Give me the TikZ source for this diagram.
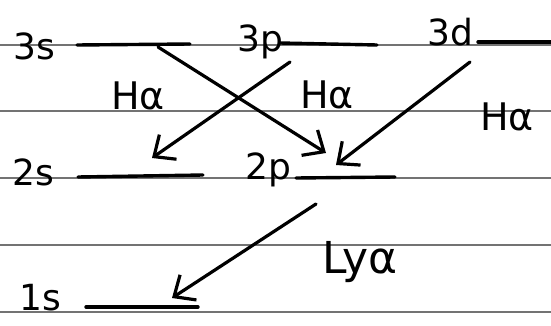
\documentclass[tikz,border=0pt]{standalone}
\usepackage{fontspec}
\setmainfont{DejaVu Sans}
\usetikzlibrary{arrows.meta}
\begin{document}
\begin{tikzpicture}[x=1pt,y=-1pt,
  rule/.style={draw=black!55,line width=1.2pt},
  level/.style={draw=black,line width=3.4pt,line cap=round},
  trans/.style={draw=black,line width=3.2pt,line cap=round,
    -{Straight Barb[length=17pt,width=30pt,line width=3.2pt]}},
  lab/.style={inner sep=0pt,font=\fontsize{36}{38}\selectfont},
  tlab/.style={inner sep=0pt,font=\fontsize{38}{40}\selectfont}]
\useasboundingbox (0,0) rectangle (551,326);
% ruled paper lines
\foreach \yy in {45,111,178,245,312}
  \draw[rule] (0,\yy) -- (551,\yy);
% level labels
\node[lab] (l3s) at (34,46) {3s};
\node[lab] (l3p) at (260,42) {3p};
\node[lab] (l3d) at (450,32) {3d};
\node[lab] (l2s) at (33,172) {2s};
\node[lab] (l2p) at (268,170) {2p};
\node[lab] (l1s) at (40,298) {1s};
% level lines
\coordinate (a3s) at (77,45);  \coordinate (b3s) at (190,44);
\coordinate (a3p) at (280,43); \coordinate (b3p) at (377,45);
\coordinate (a3d) at (478,42); \coordinate (b3d) at (551,42);
\coordinate (a2s) at (78,177); \coordinate (b2s) at (203,175);
\coordinate (a2p) at (296,178);\coordinate (b2p) at (395,177);
\coordinate (a1s) at (86,307); \coordinate (b1s) at (198,307);
\foreach \l in {3s,3p,3d,2s,2p,1s}
  \draw[level] (a\l) -- (b\l);
% transitions
\coordinate (s3s) at (158,47);  \coordinate (e3s) at (326,153);
\coordinate (s3p) at (290,62);  \coordinate (e3p) at (152,158);
\coordinate (s3d) at (470,62);  \coordinate (e3d) at (336,165);
\coordinate (s2p) at (316,204); \coordinate (e2p) at (172,298);
\draw[trans] (s3s) -- (e3s);
\draw[trans] (s3p) -- (e3p);
\draw[trans] (s3d) -- (e3d);
\draw[trans] (s2p) -- (e2p);
% transition labels
\node[tlab] (h1) at (138,96) {Hα};
\node[tlab] (h2) at (327,95) {Hα};
\node[tlab] (h3) at (507,117) {Hα};
\node[tlab,font=\fontsize{44}{46}\selectfont] (ly) at (360,262) {Lyα};
\end{tikzpicture}
\end{document}
